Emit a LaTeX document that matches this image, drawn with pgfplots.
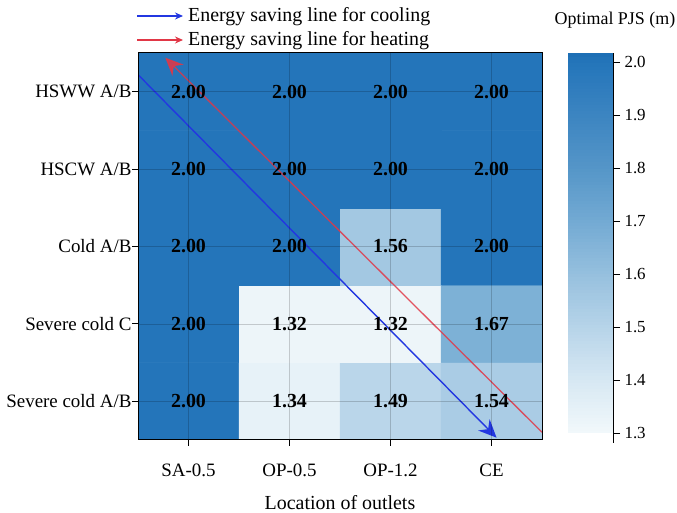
\documentclass[border=0pt]{standalone}
\usepackage{fontspec}
\setmainfont{Liberation Serif}
\usepackage{pgfplots}
\pgfplotsset{compat=1.18}
\usetikzlibrary{arrows.meta}

\definecolor{arrblue}{RGB}{35,55,225}
\definecolor{arrred}{RGB}{225,55,70}

\begin{document}
\begin{tikzpicture}[x=1bp,y=1bp]
\useasboundingbox (0,0) rectangle (677,513);
\begin{axis}[
  at={(138bp,73bp)}, anchor=south west,
  scale only axis, width=404bp, height=387bp,
  xmin=-0.5, xmax=3.5, ymin=-0.5, ymax=4.5,
  xtick={0,1,2,3}, xticklabels={SA-0.5,OP-0.5,OP-1.2,CE},
  ytick={0,1,2,3,4},
  yticklabels={Severe cold A/B,Severe cold C,Cold A/B,HSCW A/B,HSWW A/B},
  tick pos=left, tick align=outside,
  major tick length=6bp,
  tick style={black, line width=0.8pt},
  ticklabel style={font=\fontsize{19}{22}\selectfont},
  xticklabel style={yshift=-14bp},
  yticklabel style={xshift=3bp},
  xlabel={Location of outlets},
  xlabel style={font=\fontsize{20}{24}\selectfont, yshift=-12bp},
  axis on top,
  grid=major, grid style={black, opacity=0.18, line width=0.6pt},
  axis line style={black, line width=1pt},
  colormap={pjs}{rgb255(0)=(242,248,251) rgb255(1)=(215,232,243) rgb255(2)=(183,212,233) rgb255(3)=(150,192,222) rgb255(4)=(115,170,211) rgb255(5)=(85,150,200) rgb255(6)=(60,133,193) rgb255(7)=(36,117,186) rgb255(7.17)=(28,110,180)},
  point meta min=1.3, point meta max=2.017,
  colorbar sampled,
  colorbar style={
    at={(parent axis.north east)}, anchor=north west, xshift=17.5bp,
    width=45bp, height=380bp, samples=120,
    ytick={1.3,1.4,1.5,1.6,1.7,1.8,1.9,2.0},
    ytick pos=right, yticklabel pos=right,
    yticklabel style={font=\fontsize{17}{20}\selectfont, xshift=1bp,
      /pgf/number format/.cd, fixed, precision=1, zerofill, assume math mode=true},
    axis line style={draw=none},
    tick align=outside, major tick length=7bp,
    tick style={black, line width=0.8pt},
    after end axis/.code={\draw[black, line width=0.8pt] ([yshift=-10bp]rel axis cs:1,0) -- (rel axis cs:1,1);},
  },
]
\addplot[matrix plot*, mesh/cols=4, point meta=explicit] table[meta=c] {
x y c
0 0 2.00
1 0 1.34
2 0 1.49
3 0 1.54
0 1 2.00
1 1 1.32
2 1 1.32
3 1 1.67
0 2 2.00
1 2 2.00
2 2 1.56
3 2 2.00
0 3 2.00
1 3 2.00
2 3 2.00
3 3 2.00
0 4 2.00
1 4 2.00
2 4 2.00
3 4 2.00
};
\addplot[draw=none, mark=none, nodes near coords, point meta=explicit symbolic,
  nodes near coords align={center},
  every node near coord/.append style={font=\bfseries\fontsize{20}{24}\selectfont, black, anchor=center}]
  table[meta=t] {
x y t
0 0 2.00
1 0 1.34
2 0 1.49
3 0 1.54
0 1 2.00
1 1 1.32
2 1 1.32
3 1 1.67
0 2 2.00
1 2 2.00
2 2 1.56
3 2 2.00
0 3 2.00
1 3 2.00
2 3 2.00
3 3 2.00
0 4 2.00
1 4 2.00
2 4 2.00
3 4 2.00
};
\draw[arrblue, line width=1.4pt, -{Stealth[length=18bp, width=16bp, inset=6bp]}] (axis cs:-0.5,4.22) -- (axis cs:3.05,-0.47);
\draw[arrred, opacity=0.85, line width=1.3pt, -{Stealth[length=18bp, width=16bp, inset=6bp]}] (axis cs:3.5,-0.40) -- (axis cs:-0.23,4.44);
\end{axis}
\draw[arrblue, line width=1.4pt, -{Stealth[length=8bp, width=7bp]}] (137,497) -- (183,497);
\node[anchor=west, font=\fontsize{20}{24}\selectfont, inner sep=0] at (188,496) {Energy saving line for cooling};
\draw[arrred, line width=1.4pt, -{Stealth[length=8bp, width=7bp]}] (137,473) -- (183,473);
\node[anchor=west, font=\fontsize{20}{24}\selectfont, inner sep=0] at (188,472) {Energy saving line for heating};
\node[font=\fontsize{18}{21}\selectfont] at (615,493) {Optimal PJS (m)};
\end{tikzpicture}
\end{document}
